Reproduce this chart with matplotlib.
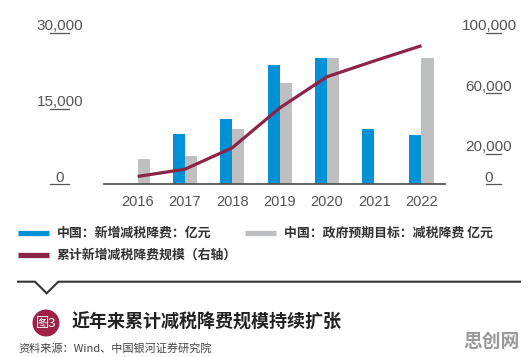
import numpy as np
import matplotlib
matplotlib.use("Agg")
import matplotlib.pyplot as plt
import matplotlib.transforms as mtransforms
from matplotlib.lines import Line2D
from matplotlib.patches import Circle

# ---------------- data ----------------
years = ["2016", "2017", "2018", "2019", "2020", "2021", "2022"]
new_cuts = [np.nan, 10000, 13000, 23600, 25000, 11000, 9700]        # 中国：新增减税降费：亿元
target_cuts = [5000, 5500, 11000, 20000, 25000, np.nan, 25000]      # 中国：政府预期目标：减税降费 亿元
cumulative = [5000, 9800, 24000, 50300, 71000, 81500, 91600]        # 累计新增减税降费规模（右轴）
left_ticks = [0, 15000, 30000]
left_tick_labels = ["0", "15,000", "30,000"]
right_ticks = [0, 20000, 60000, 100000]
right_tick_labels = ["0", "20,000", "60,000", "100,000"]

legend_labels = ["中国：新增减税降费：亿元", "中国：政府预期目标：减税降费 亿元", "累计新增减税降费规模（右轴）"]
title = "近年来累计减税降费规模持续扩张"
badge = "图3"
source = "资料来源：Wind、中国银河证券研究院"
watermark = "思创网"

# ---------------- style ----------------
BLUE = "#0091D6"
GRAY = "#BEBFC1"
MAROON = "#8C2447"
BADGE = "#9E2146"
TXT = "#555555"
CJK = ["Noto Sans CJK SC", "DejaVu Sans"]
LAT = ["Liberation Sans", "DejaVu Sans"]

W, H = 531, 357
fig = plt.figure(figsize=(W / 100, H / 100), dpi=100)
fig.patch.set_facecolor("white")

def fx(px):
    return px / W

def fy(py):
    return (H - py) / H

# axes spanning x 104..445 px, y 33..184 px
ax = fig.add_axes([fx(104), fy(184), fx(445) - fx(104), fy(33) - fy(184)])
ax2 = ax.twinx()

x = np.arange(len(years))
bw = 0.254
ax.bar(x - bw / 2, new_cuts, bw, color=BLUE, linewidth=0, zorder=2)
ax.bar(x + bw / 2, target_cuts, bw, color=GRAY, linewidth=0, zorder=2)
ax2.plot(x, cumulative, color=MAROON, lw=2.3, solid_capstyle="butt", zorder=3)

ax.set_xlim(-0.712, 6.497)
ax.set_ylim(0, 30000)
ax2.set_ylim(0, 100000)

for a in (ax, ax2):
    for s in ["top", "left", "right"]:
        a.spines[s].set_visible(False)
    a.set_yticks([])
    a.patch.set_visible(False)
ax2.spines["bottom"].set_visible(False)
ax.spines["bottom"].set_color("#555555")
ax.spines["bottom"].set_linewidth(1.3)

ax.set_xticks(x)
ax.set_xticklabels(years, family=LAT, fontsize=10.5, color=TXT)
ax.tick_params(axis="x", length=0, pad=8)

# custom y tick labels with short underline marks
tl = mtransforms.blended_transform_factory(fig.transFigure, ax.transData)
for v, lab in zip(left_ticks, left_tick_labels):
    ax.annotate(lab, xy=(fx(60), v), xycoords=tl, xytext=(0, 1.8),
                textcoords="offset points", ha="center", va="baseline",
                family=LAT, fontsize=11, color=TXT, annotation_clip=False)
    ax.add_line(Line2D([fx(50), fx(69)], [v, v], transform=tl, color=TXT,
                       lw=0.9, clip_on=False))

tr = mtransforms.blended_transform_factory(fig.transFigure, ax2.transData)
for v, lab in zip(right_ticks, right_tick_labels):
    ax2.annotate(lab, xy=(fx(489), v), xycoords=tr, xytext=(0, 1.8),
                 textcoords="offset points", ha="center", va="baseline",
                 family=LAT, fontsize=11, color=TXT, annotation_clip=False)
    ax2.add_line(Line2D([fx(486), fx(501)], [v, v], transform=tr, color=TXT,
                        lw=0.9, clip_on=False))

# ---------------- legend (manual) ----------------
def legend_item(x0, y, color, label):
    fig.add_artist(Line2D([fx(x0), fx(x0 + 31)], [fy(y), fy(y)], color=color, lw=3.8,
                          solid_capstyle="butt"))
    fig.text(fx(x0 + 39), fy(y), label, family=CJK, fontsize=9.3, fontweight="bold",
             color="#333333", ha="left", va="center")

legend_item(18, 233, BLUE, legend_labels[0])
legend_item(245, 233, GRAY, legend_labels[1])
legend_item(18, 255, MAROON, legend_labels[2])

# ---------------- separator with notch ----------------
sep_x = [18, 35, 46.7, 58.3, 520]
sep_y = [281.7, 281.7, 293.3, 281.7, 281.7]
fig.add_artist(Line2D([fx(v) for v in sep_x], [fy(v) for v in sep_y], color="#333333",
                      lw=1.5, solid_joinstyle="miter"))

# ---------------- badge + title ----------------
circ = Circle((46, H - 323), 13.5, transform=mtransforms.IdentityTransform(),
              facecolor=BADGE, edgecolor="none")
fig.add_artist(circ)
fig.text(fx(46), fy(323), badge, family=CJK, fontsize=9.5, color="white",
         ha="center", va="center")
fig.text(fx(72), fy(322), title, family=CJK, fontsize=13, fontweight="bold",
         color="#222222", ha="left", va="center")

fig.text(fx(18), fy(348), source, family=CJK, fontsize=8, color="#444444",
         ha="left", va="center")
fig.text(fx(463), fy(341), watermark, family=CJK, fontsize=13.5, fontweight="bold",
         color="#999999", ha="left", va="center")

fig.savefig("out.png", dpi=100)
